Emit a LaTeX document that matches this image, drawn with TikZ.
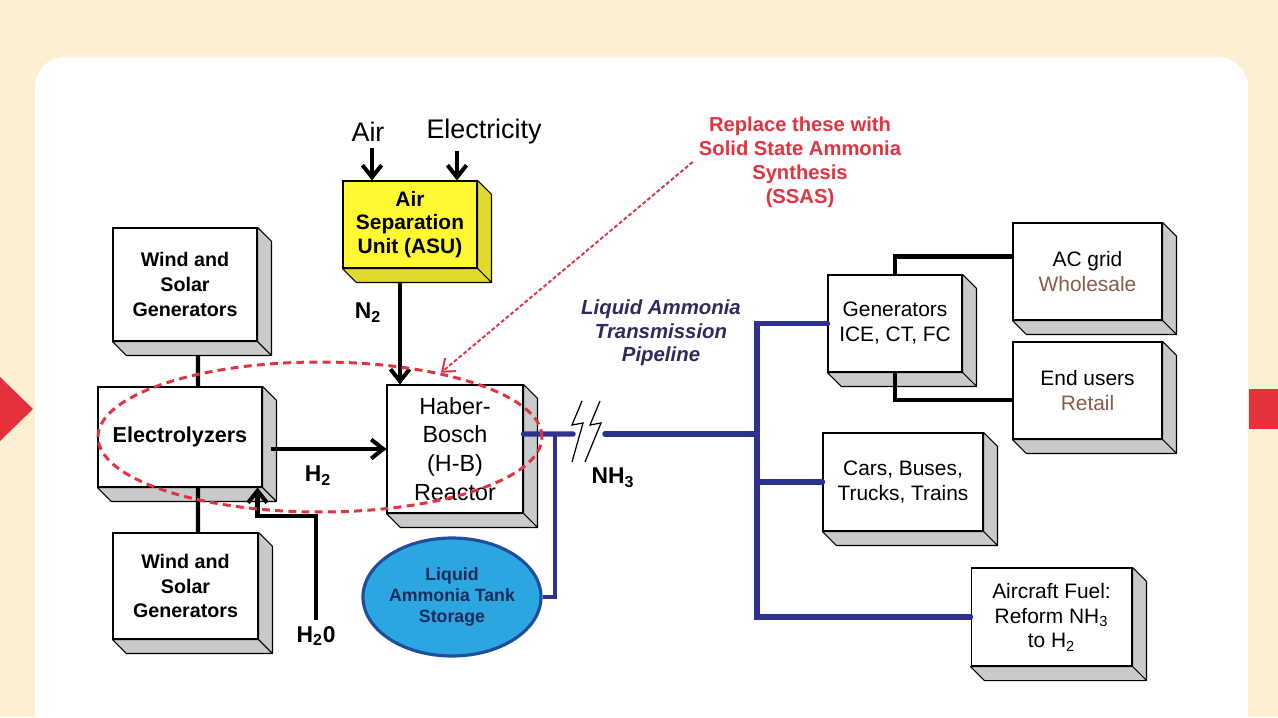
\documentclass[tikz,border=0pt]{standalone}
\usepackage{fontspec}
\setmainfont{Liberation Sans}
\usetikzlibrary{shapes.geometric, arrows.meta, positioning, calc}
\definecolor{pagecream}{HTML}{FDF0D2}
\definecolor{markred}{HTML}{E5323A}
\definecolor{sidegray}{HTML}{C9CACC}
\definecolor{asuyellow}{HTML}{FFF833}
\definecolor{asuside}{HTML}{E2DA2A}
\definecolor{pipeblue}{HTML}{2E3192}
\definecolor{tankblue}{HTML}{2BA6E0}
\definecolor{tankedge}{HTML}{1F4E9E}
\definecolor{tanktext}{HTML}{1A2B5C}
\definecolor{pipetext}{HTML}{2B2D5C}
\definecolor{ssasred}{HTML}{E03442}
\definecolor{salebrown}{HTML}{8A5A48}

\begin{document}
\begin{tikzpicture}[
    x=0.02cm, y=-0.02cm,
    every node/.style={font=\fontsize{11.9}{14.2}\selectfont},
    slab/.style={draw, fill=white, line width=0.6pt, inner sep=0pt, align=center},
    boldslab/.style={slab, font=\fontsize{11.2}{14.2}\selectfont\bfseries},
    sideface/.style={draw, fill=sidegray, line width=0.6pt, line join=round},
    flowlabel/.style={font=\fontsize{13}{15}\selectfont\bfseries},
    wire/.style={line width=2.3pt},
    flow/.style={line width=2.3pt, -{Straight Barb[length=2.4mm, width=3.8mm]}},
    pipe/.style={draw=pipeblue, line width=3.1pt, line cap=round},
    thinpipe/.style={draw=pipeblue, line width=1.9pt},
    bolt/.style={line width=0.7pt},
    ssasring/.style={draw=ssasred, ellipse, line width=1.7pt, dash pattern=on 4.5pt off 3pt, inner sep=0pt},
    ssasarrow/.style={draw=ssasred, line width=1.1pt, dash pattern=on 2.2pt off 1.3pt, -{Straight Barb[length=2.2mm, width=3.4mm]}}
]
    % page background and card
    \useasboundingbox (0,0) rectangle (1278,717);
    \fill[pagecream] (0,0) rectangle (1278,717);
    \begin{scope}
        \clip (0,0) rectangle (1278,717);
        \fill[white, rounded corners=0.6cm] (35,57) rectangle (1248,780);
    \end{scope}
    \fill[markred] (0,377) -- (33,409) -- (0,441) -- cycle;
    \fill[markred] (1249,389) rectangle (1278,429);

    % boxes
    \node[boldslab, minimum width=2.88cm, minimum height=2.26cm] (windtop) at (185,284.5) {Wind and\\Solar\\Generators};
    \node[slab, minimum width=3.28cm, minimum height=2cm, font=\fontsize{12.3}{14.2}\selectfont\bfseries] (elec) at (180,437) {Electrolyzers};
    \node[boldslab, minimum width=2.9cm, minimum height=2.12cm] (windbot) at (185.5,586) {Wind and\\Solar\\Generators};
    \node[slab, fill=asuyellow, minimum width=2.68cm, minimum height=1.74cm, font=\fontsize{11.9}{13.6}\selectfont\bfseries] (asu) at (410,224.5) {Air\\Separation\\Unit (ASU)};
    \node[slab, minimum width=2.72cm, minimum height=2.56cm, font=\fontsize{13.3}{16.4}\selectfont] (hb) at (455,449) {Haber-\\Bosch\\(H-B)\\Reactor};
    \node[draw=tankedge, fill=tankblue, ellipse, line width=1.8pt, minimum width=3.46cm, minimum height=2.36cm, inner sep=0pt, align=center, text=tanktext, font=\fontsize{10.1}{12.2}\selectfont\bfseries] (storage) at (452,597) {Liquid\\Ammonia Tank\\Storage};
    \node[slab, minimum width=2.68cm, minimum height=1.94cm] (gens) at (895,323.5) {Generators\\ICE, CT, FC};
    \node[slab, minimum width=2.98cm, minimum height=1.94cm] (acgrid) at (1087.5,271.5) {AC grid\\\textcolor{salebrown}{Wholesale}};
    \node[slab, minimum width=2.98cm, minimum height=1.94cm] (endusers) at (1087.5,390.5) {End users\\\textcolor{salebrown}{Retail}};
    \node[slab, minimum width=3.2cm, minimum height=1.96cm] (cars) at (903,482) {Cars, Buses,\\Trucks, Trains};
    \node[slab, minimum width=3.22cm, minimum height=1.96cm] (aircraft) at (1051.5,617) {Aircraft Fuel:\\Reform NH\textsubscript{3}\\to H\textsubscript{2}};

    % depth faces
    \foreach \b in {windtop, elec, windbot, hb, gens, acgrid, endusers, cars, aircraft} {
        \filldraw[sideface] (\b.north east) -- ++(14,14) -- ($(\b.south east)+(14,14)$) -- (\b.south east) -- cycle;
        \filldraw[sideface] (\b.south west) -- ++(14,14) -- ($(\b.south east)+(14,14)$) -- (\b.south east) -- cycle;
    }
    \filldraw[sideface, fill=asuside] (asu.north east) -- ++(14,14) -- ($(asu.south east)+(14,14)$) -- (asu.south east) -- cycle;
    \filldraw[sideface, fill=asuside] (asu.south west) -- ++(14,14) -- ($(asu.south east)+(14,14)$) -- (asu.south east) -- cycle;

    % labels
    \node[font=\fontsize{15.3}{17}\selectfont] (air) at (368,132) {Air};
    \node[font=\fontsize{15.3}{17}\selectfont] (elecin) at (484,132) {Electricity};
    \node[flowlabel] (n2lab) at (368,313) {N\textsubscript{2}};
    \node[flowlabel] (h2lab) at (318,476) {H\textsubscript{2}};
    \node[flowlabel] (h2olab) at (316,636) {H\textsubscript{2}0};
    \node[flowlabel] (nh3lab) at (613,478) {NH\textsubscript{3}};
    \node[align=center, text=pipetext, font=\fontsize{11.6}{13.3}\selectfont\bfseries\itshape] (pipelab) at (661,333) {Liquid Ammonia\\Transmission\\Pipeline};
    \node[align=center, text=ssasred, font=\fontsize{11.5}{13.6}\selectfont\bfseries] (ssasnote) at (800,162) {Replace these with\\Solid State Ammonia\\Synthesis\\(SSAS)};

    % inputs to the plant
    \draw[flow] ([xshift=-0.76cm]asu.north |- air.south) -- ([xshift=-0.76cm]asu.north);
    \draw[flow] ([xshift=0.94cm]asu.north |- elecin.south) -- ([xshift=0.94cm]asu.north);
    \draw[flow] ([shift={(-0.2cm,-0.28cm)}]asu.south) -- ([xshift=-0.2cm]asu.south |- hb.north);
    \draw[flow] ([xshift=0.16cm]elec.east |- hb.west) -- (hb.west);
    \draw[flow] (h2olab.north) -- ++(0,-104) -| ([xshift=-0.1cm]elec.south east);
    \draw[wire] ([shift={(0.26cm,-0.28cm)}]windtop.south) -- ([xshift=0.36cm]elec.north);
    \draw[wire] ([xshift=0.36cm]elec.south) -- ([xshift=0.25cm]windbot.north);

    % pipeline
    \coordinate (tee) at (555,434);
    \coordinate (cutL) at (573,434);
    \coordinate (cutR) at (605,434);
    \coordinate (hub) at (757,434);
    \coordinate (hubbot) at (757,617);
    \draw[pipe] ([yshift=0.3cm]hb.east) -- (cutL);
    \draw[pipe] (cutR) -- (hub);
    \draw[thinpipe] (tee) |- (storage.east);
    \draw[pipe] (gens.west) -| (hubbot) -- (aircraft.west);
    \draw[pipe] (hubbot |- cars.west) -- (cars.west);
    \draw[bolt] (582,401) -- (572,425) -- (583,423) -- (572,462);
    \draw[bolt] (600,401) -- (590,425) -- (601,423) -- (585,462);

    % end uses
    \draw[wire] (gens.north) |- ([yshift=0.3cm]acgrid.west);
    \draw[wire] (gens.south) |- ([yshift=-0.19cm]endusers.west);

    % SSAS note
    \node[ssasring, minimum width=8.88cm, minimum height=3cm] (ring) at (320,437) {};
    \draw[ssasarrow] (ssasnote.west) -- (ring.28);
\end{tikzpicture}
\end{document}
